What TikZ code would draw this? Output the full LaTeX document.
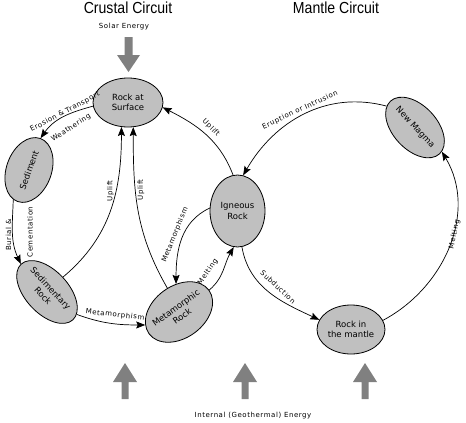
\documentclass[tikz,border=0pt]{standalone}
\usepackage{fontspec}
\usetikzlibrary{shapes.geometric,arrows.meta}
\newfontfamily\rockfont{DejaVu Sans}
\newfontfamily\labelfont[LetterSpace=8]{DejaVu Sans}
\newfontfamily\titlefont[FakeStretch=0.88]{Liberation Sans}
\definecolor{rockgray}{RGB}{192,192,192}
\definecolor{energygray}{RGB}{128,128,128}
\tikzset{
	rock/.style={ellipse,draw,fill=rockgray,line width=.8pt,inner sep=-8pt,align=center,font=\rockfont\fontsize{8.5}{10.5}\selectfont},
	lbl/.style={inner sep=0pt,font=\labelfont\fontsize{7}{8}\selectfont},
	flow/.style={->,line width=.7pt},
	title/.style={font=\titlefont\fontsize{16}{18}\selectfont}
}
\begin{document}
\begin{tikzpicture}[x=1pt,y=1pt,>={Stealth[length=9pt,width=7pt,inset=1.5pt]},line join=round]
			\useasboundingbox (0,0) rectangle (466,-423);
			
			% titles and energy
			\node[title] (crust) at (128,-8) {Crustal Circuit};
			\node[title] (mantle) at (336,-8) {Mantle Circuit};
			\node[lbl] (solar) at (124,-27) {Solar Energy};
			\node[lbl] (internal) at (253,-416) {Internal (Geothermal) Energy};
			\fill[energygray] (124.5,-37)--(132.5,-37)--(132.5,-55)--(140,-55)--(128.5,-72)--(117,-55)--(124.5,-55)--cycle;
			\foreach \x in {125,245,365}
			\fill[energygray] (\x-3.5,-399)--(\x+3.5,-399)--(\x+3.5,-382)--(\x+12,-382)--(\x,-363)--(\x-12,-382)--(\x-3.5,-382)--cycle;
			
			% rocks
			\node[rock,minimum width=70pt,minimum height=49pt] (rs) at (128,-102.5) {Rock at\\Surface};
			\node[rock,rotate=70,minimum width=67pt,minimum height=45pt] (sed) at (29,-170) {Sediment};
			\node[rock,rotate=-47,minimum width=76pt,minimum height=43pt] (sr) at (47,-292) {Sedimentary\\Rock};
			\node[rock,rotate=36,minimum width=74pt,minimum height=52pt] (mr) at (179,-312) {Metamorphic\\Rock};
			\node[rock,minimum width=55pt,minimum height=72pt] (ig) at (237.5,-211) {Igneous\\Rock};
			\node[rock,rotate=-47,minimum width=72pt,minimum height=44pt] (nm) at (415,-127.5) {New Magma};
			\node[rock,minimum width=68pt,minimum height=49pt] (rm) at (351,-329.5) {Rock in\\the mantle};
			
			% crustal circuit
			\draw[flow] (rs.186) to[out=195,in=55] (sed.east);
			\draw[flow] (sed.172) to[out=-92,in=115] (sr.west);
			\draw[flow] (sr.10) to[out=-20,in=180] (mr.165);
			\draw[flow] (sr.90) to[out=40,in=-90] (rs.255);
			\draw[flow] (mr.80) to[out=120,in=-90] (rs.282);
			\draw[flow] (ig.97) to[out=111,in=-27] (rs.352);
			\draw[flow] (ig.174) to[out=205,in=90] (mr.60);
			\draw[flow] (mr.east) to[out=40,in=240] (ig.264);
			
			% mantle circuit
			\draw[flow] (ig.277) to[out=-80,in=155] (rm.163);
			\draw[flow] (rm.16) to[out=28,in=-59] (nm.5);
			\draw[flow] (nm.190) to[out=165,in=60] (ig.81);
			
			% labels
			\node[lbl,rotate=28] (erosion) at (65,-112) {Erosion \& Transport};
			\node[lbl,rotate=33] (weather) at (71,-128) {Weathering};
			\node[lbl,rotate=90] (burial) at (8.5,-235) {Burial \&};
			\node[lbl,rotate=90] (cement) at (30,-232) {Cementation};
			\node[lbl,rotate=90] (upleft) at (110.5,-191) {Uplift};
			\node[lbl,rotate=90] (upmid) at (141,-190) {Uplift};
			\node[lbl,rotate=-45] (upright) at (211,-128) {Uplift};
			\node[lbl,rotate=68] (metaig) at (175,-235) {Metamorphism};
			\node[lbl,rotate=55] (meltmr) at (208,-272) {Melting};
			\node[lbl,rotate=-6] (metasr) at (115,-315) {Metamorphism};
			\node[lbl,rotate=-43] (subd) at (278,-287) {Subduction};
			\node[lbl,rotate=78] (meltrm) at (454.5,-234.5) {Melting};
			\node[lbl,rotate=25] (erupt) at (300,-110) {Eruption or Intrusion};
\end{tikzpicture}
\end{document}
